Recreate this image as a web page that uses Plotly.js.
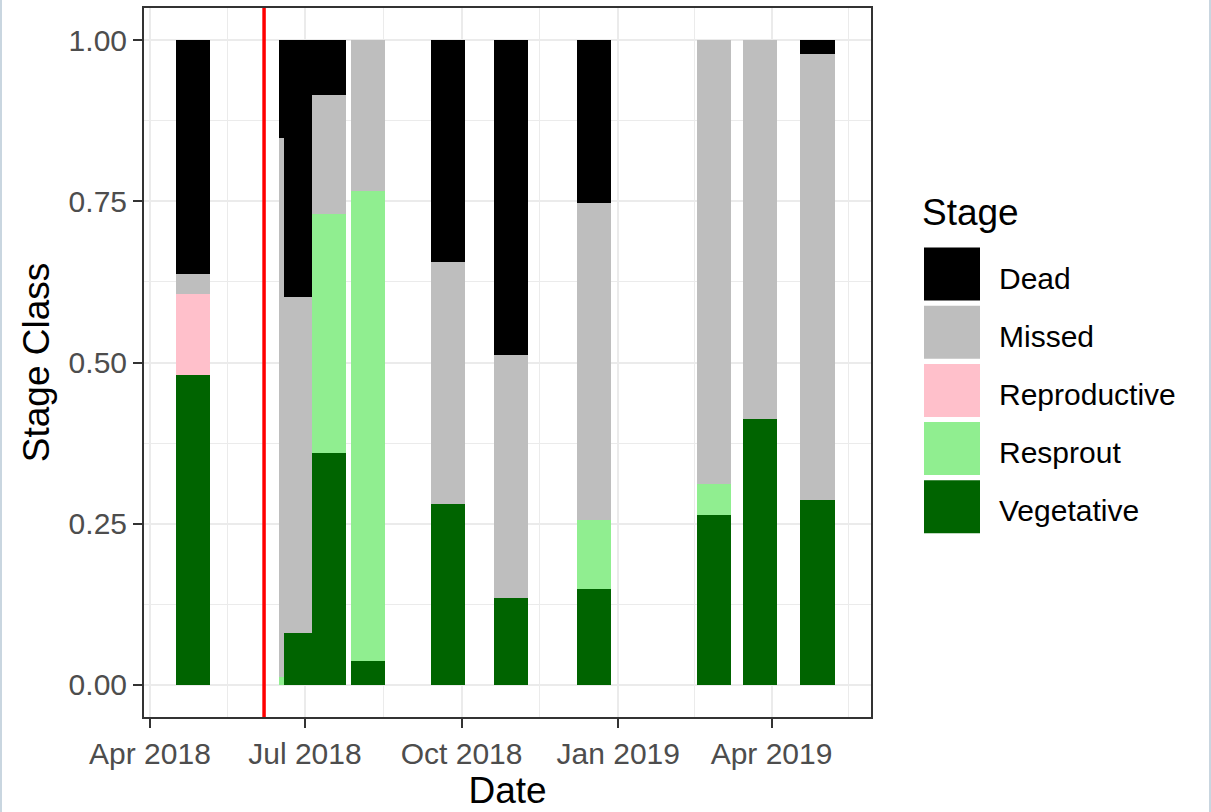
<!DOCTYPE html>
<html>
<head>
<meta charset="utf-8">
<script src="https://cdn.plot.ly/plotly-3.0.1.min.js"></script>
<style>html,body{margin:0;padding:0;background:#fff;}#chart{width:1211px;height:812px;}</style>
</head>
<body>
<div id="chart"></div>
<script>
// ---- data ----
const dates = ['2018-04-26','2018-06-26','2018-06-29','2018-07-15','2018-08-07','2018-09-23','2018-10-30','2018-12-18','2019-02-26','2019-03-25','2019-04-28'];
const vegetative   = [0.480, 0.000, 0.080, 0.360, 0.037, 0.280, 0.135, 0.149, 0.263, 0.413, 0.287];
const resprout     = [0.000, 0.012, 0.000, 0.371, 0.729, 0.000, 0.000, 0.106, 0.048, 0.000, 0.000];
const reproductive = [0.126, 0.000, 0.000, 0.000, 0.000, 0.000, 0.000, 0.000, 0.000, 0.000, 0.000];
const missed       = [0.031, 0.837, 0.522, 0.184, 0.234, 0.376, 0.377, 0.492, 0.689, 0.587, 0.691];
const dead         = [0.363, 0.151, 0.398, 0.085, 0.000, 0.344, 0.488, 0.253, 0.000, 0.000, 0.022];
const eventDate = '2018-06-07';
const barWidthDays = 20;

const stages = ['Dead','Missed','Reproductive','Resprout','Vegetative'];
const stageColors = ['#000000','#BEBEBE','#FFC0CB','#90EE90','#006400'];

const xTickVals = ['2018-04-01','2018-07-01','2018-10-01','2019-01-01','2019-04-01'];
const xTickText = ['Apr 2018','Jul 2018','Oct 2018','Jan 2019','Apr 2019'];
const yTickVals = [0, 0.25, 0.5, 0.75, 1];
const yTickText = ['0.00','0.25','0.50','0.75','1.00'];

// ---- build traces: one per survey date, stacked bottom->top ----
const series = {Dead: dead, Missed: missed, Reproductive: reproductive, Resprout: resprout, Vegetative: vegetative};
const stackOrder = stages.slice().reverse(); // Vegetative at bottom
const colorOf = {};
stages.forEach((s,i)=>{colorOf[s]=stageColors[i];});

const traces = dates.map((d, i) => {
  let cum = 0;
  const ys = [], bases = [], cols = [], names = [];
  stackOrder.forEach(s => {
    const v = series[s][i];
    ys.push(v); bases.push(cum); cols.push(colorOf[s]); names.push(s);
    cum += v;
  });
  return {
    type: 'bar',
    x: stackOrder.map(() => d),
    y: ys,
    base: bases,
    width: barWidthDays * 86400000,
    marker: {color: cols, line: {width: 0}},
    text: names,
    hovertemplate: '%{x}<br>%{text}: %{y:.2f}<extra></extra>',
    textposition: 'none',
    showlegend: false
  };
});

// ---- geometry helpers (layout only) ----
const W = 1211, H = 812;
const M = {l: 144, r: 340, t: 8, b: 95};
const PW = W - M.l - M.r, PH = H - M.t - M.b;
const px2x = p => (p - M.l) / PW;
const px2y = p => (H - M.b - p) / PH;

// minor gridlines at midpoints between major ticks
const tms = xTickVals.map(s => new Date(s + 'T00:00:00Z').getTime());
const minorX = [];
for (let i = 0; i < tms.length; i++) {
  const next = i < tms.length - 1 ? tms[i+1] : tms[i] + (tms[i] - tms[i-1]);
  minorX.push(new Date((tms[i] + next) / 2).toISOString().slice(0,19).replace('T',' '));
}

const font = 'Liberation Sans, Arial, sans-serif';

// ---- legend drawn by hand (large ggplot-style keys) ----
const shapes = [];
const annotations = [];
const keyLeft = 924, keyRight = 980, keyTop0 = 247.5, keyStep = 58.2, keyH = 53;
stages.forEach((s, i) => {
  const top = keyTop0 + keyStep * i;
  shapes.push({type: 'rect', xref: 'paper', yref: 'paper',
    x0: px2x(keyLeft), x1: px2x(keyRight), y0: px2y(top + keyH), y1: px2y(top),
    fillcolor: stageColors[i], line: {width: 0}, layer: 'above'});
  annotations.push({xref: 'paper', yref: 'paper', x: px2x(997), y: px2y(top + keyH/2 + 4),
    xanchor: 'left', yanchor: 'middle', showarrow: false, text: s,
    font: {family: font, size: 30, color: '#000000'}});
});
annotations.push({xref: 'paper', yref: 'paper', x: px2x(920), y: px2y(212),
  xanchor: 'left', yanchor: 'middle', showarrow: false, text: 'Stage',
  font: {family: font, size: 37, color: '#000000'}});

// event line
shapes.push({type: 'line', xref: 'x', yref: 'paper', x0: eventDate, x1: eventDate, y0: 0, y1: 1,
  line: {color: '#FF0000', width: 3.5}, layer: 'above'});
// screenshot frame edges
shapes.push({type: 'rect', xref: 'paper', yref: 'paper', x0: px2x(0), x1: px2x(2), y0: px2y(H), y1: px2y(0),
  fillcolor: '#C9D6E0', line: {width: 0}});
shapes.push({type: 'rect', xref: 'paper', yref: 'paper', x0: px2x(W-2), x1: px2x(W), y0: px2y(H), y1: px2y(0),
  fillcolor: '#C9D6E0', line: {width: 0}});

const layout = {
  width: W, height: H,
  margin: {l: M.l, r: M.r, t: M.t, b: M.b, pad: 0},
  paper_bgcolor: '#FFFFFF', plot_bgcolor: '#FFFFFF',
  barmode: 'overlay',
  bargap: 0,
  showlegend: false,
  font: {family: font},
  xaxis: {
    type: 'date',
    range: ['2018-03-28 12:00', '2019-05-29 10:00'],
    tickmode: 'array', tickvals: xTickVals, ticktext: xTickText,
    ticks: 'outside', ticklen: 9, tickwidth: 2, tickcolor: '#333333',
    tickfont: {family: font, size: 30, color: '#4D4D4D'},
    showgrid: true, gridcolor: '#EBEBEB', gridwidth: 2,
    minor: {tickmode: 'array', tickvals: minorX, showgrid: true, gridcolor: '#EBEBEB', gridwidth: 1.2, ticks: ''},
    showline: true, mirror: true, linecolor: '#333333', linewidth: 2,
    zeroline: false,
    title: {text: 'Date', font: {family: font, size: 37, color: '#000000'}, standoff: 6},
    automargin: false
  },
  yaxis: {
    range: [-0.05, 1.05],
    tickmode: 'array', tickvals: yTickVals, ticktext: yTickText,
    ticks: 'outside', ticklen: 9, tickwidth: 2, tickcolor: '#333333',
    tickfont: {family: font, size: 30, color: '#4D4D4D'},
    showgrid: true, gridcolor: '#EBEBEB', gridwidth: 2,
    minor: {tickmode: 'array', tickvals: [0.125, 0.375, 0.625, 0.875], showgrid: true, gridcolor: '#EBEBEB', gridwidth: 1.2, ticks: ''},
    showline: true, mirror: true, linecolor: '#333333', linewidth: 2,
    zeroline: false,
    title: {text: 'Stage Class', font: {family: font, size: 37, color: '#000000'}, standoff: 8},
    automargin: false
  },
  shapes: shapes,
  annotations: annotations
};

Plotly.newPlot('chart', traces, layout, {displayModeBar: false, staticPlot: false});
</script>
</body>
</html>
